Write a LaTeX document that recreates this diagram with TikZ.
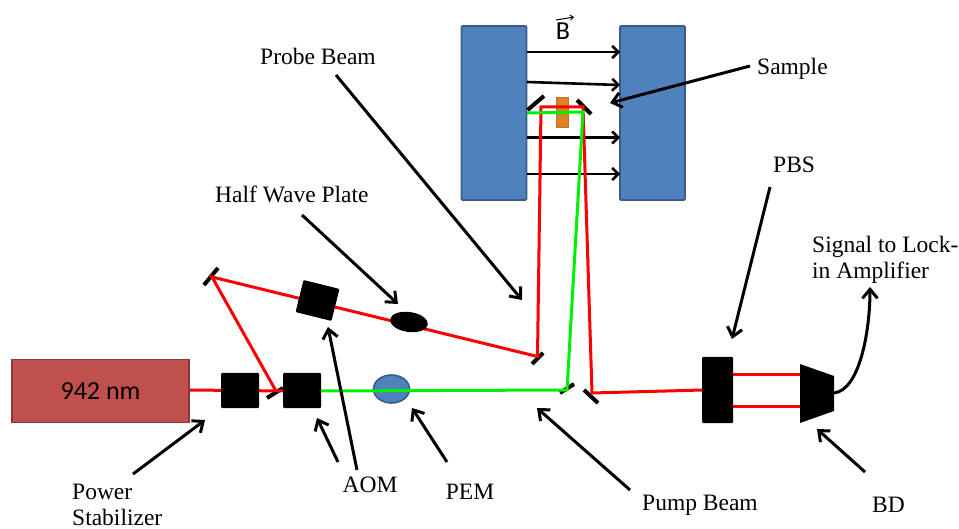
\documentclass[tikz,border=0pt]{standalone}
\usepackage{fontspec}
\setmainfont{Liberation Serif}
\setsansfont{Carlito}
\usetikzlibrary{arrows.meta,shapes.geometric}
\definecolor{magblue}{HTML}{4F81BD}
\definecolor{magedge}{HTML}{385D8A}
\definecolor{laser}{HTML}{C0504D}
\definecolor{laseredge}{HTML}{8C3836}
\definecolor{beamred}{HTML}{FF0000}
\definecolor{beamgreen}{HTML}{00F000}
\definecolor{samplefill}{HTML}{D98326}
\definecolor{sampleedge}{HTML}{C4741F}
\tikzset{
  magnet/.style={draw=magedge,fill=magblue,line width=1.6pt,minimum width=65pt,minimum height=174pt,inner sep=0pt,rounded corners=1pt},
  blackbox/.style={fill=black,minimum width=38pt,minimum height=35pt,inner sep=0pt,rounded corners=1pt},
  mirror/.style={draw=black,line width=4pt},
  redbeam/.style={draw=beamred,line width=3pt,line join=miter},
  greenbeam/.style={draw=beamgreen,line width=3pt,line join=miter},
  callout/.style={draw=black,line width=3pt,-{Straight Barb[length=9pt,width=15pt,line width=3pt]}},
  fieldline/.style={draw=black,line width=2.6pt,-{Straight Barb[length=6pt,width=12pt,line width=2.6pt]}},
  label/.style={font=\fontsize{23.5}{26}\selectfont,inner sep=0pt},
}
\begin{document}
\begin{tikzpicture}[x=1pt,y=-1pt]
\useasboundingbox (0,0) rectangle (959,529);
% magnets
\node[magnet] (magL) at (494,113) {};
\node[magnet] (magR) at (652.5,113) {};
% field lines
\coordinate (fa1) at (527,52); \coordinate (fa2) at (620,52);
\coordinate (fb1) at (527,82); \coordinate (fb2) at (620,85);
\coordinate (fc1) at (527,137.5); \coordinate (fc2) at (620,137.5);
\coordinate (fd1) at (527,174); \coordinate (fd2) at (620,174);
\draw[fieldline] (fa1) -- (fa2);
\draw[fieldline] (fb1) -- (fb2);
\draw[fieldline] (fc1) -- (fc2);
\draw[fieldline] (fd1) -- (fd2);
\node[font=\sffamily\fontsize{26}{28}\selectfont,inner sep=0pt] (bfield) at (563,31) {B};
\coordinate (barL) at (556,20); \coordinate (barR) at (574,17);
\draw[line width=1pt,-{Straight Barb[length=3pt,width=5pt]}] (barL) -- (barR);
% sample
\node[fill=samplefill,draw=sampleedge,line width=.6pt,minimum width=12pt,minimum height=30pt,inner sep=0pt] (sample) at (562.5,112.5) {};
% mirrors
\coordinate (m1a) at (527.5,110); \coordinate (m1b) at (544,96);
\coordinate (m2a) at (577,100); \coordinate (m2b) at (591,114);
\coordinate (m3a) at (532,364); \coordinate (m3b) at (543,353);
\coordinate (m4a) at (560,393); \coordinate (m4b) at (574,384);
\coordinate (m5a) at (584,390); \coordinate (m5b) at (598,403);
\coordinate (m6a) at (204,285); \coordinate (m6b) at (218,268);
\coordinate (m7a) at (267,398); \coordinate (m7b) at (283,388);
\foreach \a/\b in {m1a/m1b,m2a/m2b,m3a/m3b,m4a/m4b,m5a/m5b,m6a/m6b,m7a/m7b}
  \draw[mirror] (\a) -- (\b);
% beam corners
\coordinate (mTL) at (541,107);
\coordinate (mTR) at (583,107);
\coordinate (mTG) at (583,112);
\coordinate (mG) at (527,113);
\coordinate (mP) at (537.5,356.5);
\coordinate (mH) at (212,277);
\coordinate (mS) at (276,391);
\coordinate (mB) at (567,390);
\coordinate (mO) at (592,393);
\coordinate (lasR) at (190,390);
\coordinate (aomL) at (284,391);
\coordinate (pbsT) at (733,375); \coordinate (bdT) at (801,375);
\coordinate (pbsB) at (733,406); \coordinate (bdB) at (801,406);
\coordinate (pbsL) at (703,390);
\coordinate (greenL) at (320,391);
% boxes
\node[draw=laseredge,fill=laser,line width=1.6pt,minimum width=177pt,minimum height=63pt,inner sep=0pt] (laser) at (100.5,391) {\sffamily\fontsize{26}{28}\selectfont 942 nm};
\node[ellipse,draw=magedge,fill=magblue,line width=1.6pt,minimum width=36pt,minimum height=28pt,inner sep=0pt] (pem) at (391.5,389) {};
% beams
\draw[redbeam] (lasR) -- (aomL);
\draw[redbeam] (mS) -- (mH) -- (mP) -- (mTL) -- (mTR) -- (mO) -- (pbsL);
\draw[redbeam] (pbsT) -- (bdT);
\draw[redbeam] (pbsB) -- (bdB);
\draw[greenbeam] (greenL) -- (mB) -- (mTG) -- (mG);
% optical elements
\node[blackbox] (stab) at (240,390.5) {};
\node[blackbox] (aom2) at (302,390.5) {};
\node[blackbox,minimum width=37pt,minimum height=33pt,rotate=-14] (aom1) at (317.5,300.5) {};
\node[ellipse,fill=black,minimum width=38pt,minimum height=20pt,inner sep=0pt,rotate=-8] (hwp) at (409,322) {};
\node[fill=black,minimum width=31pt,minimum height=66pt,inner sep=0pt,rounded corners=1pt] (pbs) at (717.5,390) {};
\coordinate (bd1) at (800,364); \coordinate (bd2) at (834,376);
\coordinate (bd3) at (834,411); \coordinate (bd4) at (800,423);
\fill[black] (bd1) -- (bd2) -- (bd3) -- (bd4) -- cycle;
\coordinate (bdout) at (834,393);
% labels
\node[label,anchor=west] (tprobe) at (260,56) {Probe Beam};
\node[label,anchor=west] (tsample) at (757,69) {Sample};
\node[label,anchor=west] (thwp) at (215,194) {Half Wave Plate};
\node[label,anchor=west] (tpbs) at (773,165) {PBS};
\node[label,anchor=north west,align=left] (tsignal) at (812,236) {Signal to Lock-\\in Amplifier};
\node[label,anchor=north west,align=left] (tpower) at (72,484) {Power\\Stabilizer};
\node[label] (taom) at (370,485) {AOM};
\node[label] (tpem) at (470,492) {PEM};
\node[label,anchor=west] (tpump) at (642,505) {Pump Beam};
\node[label,anchor=west] (tbd) at (872,505) {BD};
% callout ends
\coordinate (c1s) at (336,75); \coordinate (c1e) at (522,300);
\coordinate (c2s) at (750,66); \coordinate (c2e) at (610,103);
\coordinate (c3s) at (302,215); \coordinate (c3e) at (398,304);
\coordinate (c4s) at (770,187); \coordinate (c4e) at (732,339);
\coordinate (c5s) at (133,474); \coordinate (c5e) at (205,420);
\coordinate (c6s) at (338,462); \coordinate (c6e) at (317,418);
\coordinate (c7s) at (357,470); \coordinate (c7e) at (328,327);
\coordinate (c8s) at (447,462); \coordinate (c8e) at (412,408);
\coordinate (c9s) at (630,490); \coordinate (c9e) at (537,408);
\coordinate (c10s) at (865,472); \coordinate (c10e) at (817,429);
\coordinate (c11e) at (870,287);
\foreach \a/\b in {c1s/c1e,c2s/c2e,c3s/c3e,c4s/c4e,c5s/c5e,c6s/c6e,c7s/c7e,c8s/c8e,c9s/c9e,c10s/c10e}
  \draw[callout] (\a) -- (\b);
\draw[callout] (bdout) .. controls (860,390) and (870,330) .. (c11e);
\end{tikzpicture}
\end{document}
